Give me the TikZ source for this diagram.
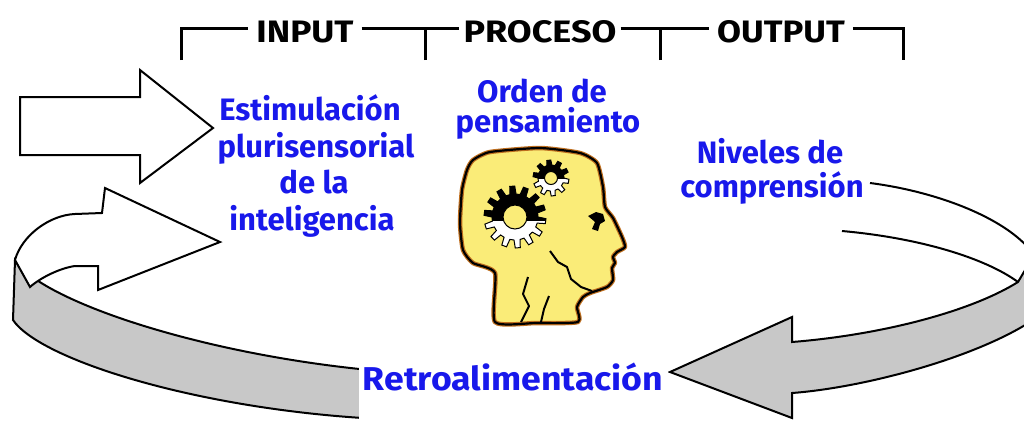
\documentclass[tikz,border=0pt]{standalone}
\usepackage{fontspec}
\setmainfont{Fira Sans}
\definecolor{txtblue}{RGB}{24,24,235}
\definecolor{bandgray}{RGB}{200,200,200}
\definecolor{headyellow}{RGB}{250,236,120}
\definecolor{headedge}{RGB}{190,110,30}
\newcommand{\gearpath}[3]{(0:#2) \foreach \k in {1,...,#3}{ -- ({(\k-1)*360/#3+0.12*360/#3}:#1) -- ({(\k-1)*360/#3+0.48*360/#3}:#1) -- ({(\k-1)*360/#3+0.6*360/#3}:#2) -- ({\k*360/#3}:#2)} -- cycle}
\tikzset{
  lbl/.style={font=\fontsize{31}{36}\selectfont\bfseries, text=black, inner ysep=0pt, anchor=base},
  bluetxt/.style={font=\fontsize{31}{36}\selectfont\bfseries, text=txtblue, inner sep=0pt, anchor=base},
  brk/.style={line width=3pt, black},
  outl/.style={line width=2pt, black, line join=miter},
}
\begin{document}
\begin{tikzpicture}[x=1pt,y=-1pt]
\useasboundingbox (0,0) rectangle (1024,421);
\clip (0,0) rectangle (1024,421);
\fill[white] (0,0) rectangle (1024,421);

% ---- bracket with labels
\coordinate (ylev) at (0,28);
\node[lbl, inner xsep=8pt] (in) at (305,42) {\scalebox{1.14}[1]{INPUT}};
\node[lbl, inner xsep=4pt] (proc) at (540,42) {\scalebox{1.16}[1]{PROCESO}};
\node[lbl, inner xsep=8pt] (out) at (781,42) {\scalebox{1.12}[1]{OUTPUT}};
\coordinate (t1) at (181,60);
\coordinate (t2) at (425,60);
\coordinate (t3) at (660,60);
\coordinate (t4) at (903,60);
\draw[brk] (t1) |- (in.west |- ylev);
\draw[brk] (in.east |- ylev) -- (proc.west |- ylev);
\draw[brk] (proc.east |- ylev) -- (out.west |- ylev);
\draw[brk] (out.east |- ylev) -| (t4);
\draw[brk] (t2) -- (t2 |- ylev);
\draw[brk] (t3) -- (t3 |- ylev);

% ---- input arrow
\draw[outl, fill=white] (20,97) -- (140,97) -- (140,70) -- (213,128) -- (140,183) -- (140,155) -- (20,155) -- cycle;

% ---- feedback band, left part
\draw[outl, fill=bandgray] (15,260) .. controls (40,300) and (200,355) .. (380,371)
   -- (380,419) .. controls (200,410) and (40,360) .. (13,320) -- cycle;
\draw[outl, fill=white] (15,260) .. controls (22,235) and (50,215) .. (75,214) -- (102,213) -- (105,188)
   -- (220,242) -- (98,290) -- (98,266) -- (75,266) .. controls (60,268) and (40,278) .. (30,287) -- cycle;

% ---- feedback band, right part
\draw[outl] (870,183) .. controls (940,192) and (1010,220) .. (1034,255);
\draw[outl] (842,231) .. controls (920,238) and (985,258) .. (1018,282);
\draw[outl, fill=bandgray] (670,372) -- (792,317) -- (792,342) .. controls (880,335) and (970,312) .. (1018,282)
   -- (1034,255) -- (1045,255) -- (1045,320) -- (1030,322) .. controls (970,360) and (860,388) .. (792,393)
   -- (792,418) -- cycle;

% ---- white box for feedback label
\fill[white] (359,350) rectangle (668,421);

% ---- head
\draw[headedge, line width=4.5pt, fill=headyellow, line join=round]
  plot[smooth cycle, tension=0.35] coordinates {(473,160) (490,152) (540,148) (580,153) (597,163) (603,187) (605,207) (613,218) (622,237) (625,247) (617,252) (613,257) (615,263) (612,268) (613,280) (607,287) (590,293) (583,297) (577,307) (578,322) (536,323) (495,322) (495,273) (473,263) (463,250) (460,223) (462,190) (467,170)};
\draw[black, line width=2.2pt, line join=round]
  plot[smooth cycle, tension=0.35] coordinates {(473,160) (490,152) (540,148) (580,153) (597,163) (603,187) (605,207) (613,218) (622,237) (625,247) (617,252) (613,257) (615,263) (612,268) (613,280) (607,287) (590,293) (583,297) (577,307) (578,322) (536,323) (495,322) (495,273) (473,263) (463,250) (460,223) (462,190) (467,170)};
\fill[black] (588,216) -- (596,212) -- (603,214) -- (605,221) -- (600,224) -- (598,231) -- (592,229) -- (595,222) -- cycle;
\draw[black, line width=2pt, line join=round] (550,251) -- (558,262) -- (567,267) -- (571,279) -- (581,287) -- (592,291);
\draw[black, line width=2pt, line join=round] (528,277) -- (523,294) -- (529,306) -- (521,322);
\draw[black, line width=2pt, line join=round] (549,296) -- (544,309) -- (541,322);

% ---- gears
\begin{scope}[shift={(515,217)}]
  \filldraw[fill=white, draw=black, line width=1pt] \gearpath{31}{23}{14};
  \begin{scope}
    \clip (-40,-40) rectangle (40,3);
    \fill[black] \gearpath{31}{23}{14};
  \end{scope}
  \filldraw[fill=headyellow, draw=black, line width=1pt] (0,0) circle[radius=12];
\end{scope}
\begin{scope}[shift={(551,178)}]
  \filldraw[fill=white, draw=black, line width=1pt] \gearpath{18}{13}{10};
  \begin{scope}
    \clip (-25,-25) rectangle (25,0);
    \fill[black] \gearpath{18}{13}{10};
  \end{scope}
  \filldraw[fill=headyellow, draw=black, line width=1pt] (0,0) circle[radius=6.5];
\end{scope}

% ---- blue texts
\node[bluetxt] (est1) at (310,120) {Estimulación};
\node[bluetxt] (est2) at (316,157) {plurisensorial};
\node[bluetxt] (est3) at (314,193) {de la};
\node[bluetxt] (est4) at (312,230) {inteligencia};
\node[bluetxt] (ord1) at (542,102) {Orden de};
\node[bluetxt] (ord2) at (548,132) {pensamiento};
\node[bluetxt] (niv1) at (770,163) {Niveles de};
\node[bluetxt] (niv2) at (772,197) {comprensión};
\node[bluetxt, font=\fontsize{33}{36}\selectfont\bfseries] (retro) at (513,390) {\scalebox{1.08}[1]{Retroalimentación}};
\end{tikzpicture}
\end{document}
